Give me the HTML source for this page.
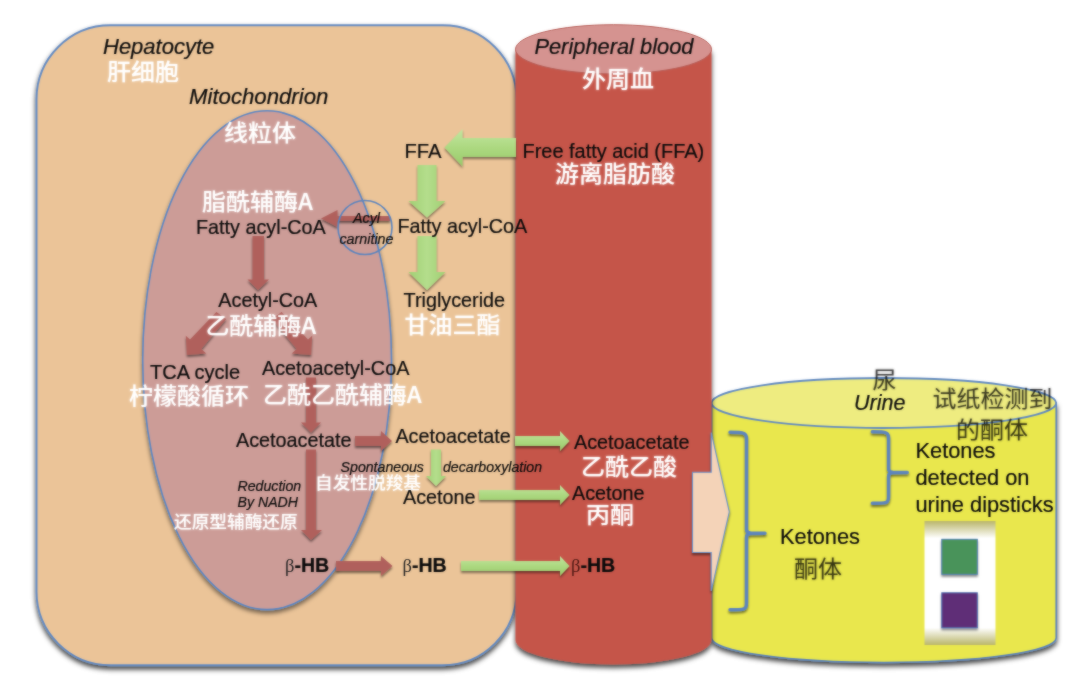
<!DOCTYPE html>
<html lang="zh">
<head>
<meta charset="utf-8">
<title>Ketone body metabolism</title>
<style>
html,body{margin:0;padding:0;background:#fff;}
body{width:1080px;height:680px;overflow:hidden;}
svg{display:block;}
text{font-family:"Liberation Sans","Noto Sans CJK SC",sans-serif;fill:#0a0a0a;stroke:#0a0a0a;stroke-width:0.2px;}
.t{font-size:19.8px;}
.it{font-style:italic;font-size:22px;}
.sm{font-style:italic;font-size:14.15px;}
.xs{font-style:italic;font-size:14.3px;}
.k{font-size:21.8px;}
.cw{stroke:none;filter:url(#glow);fill:#fff;font-size:23px;transform-box:fill-box;transform-origin:0% 100%;transform:scale(1.043,1);font-weight:500;font-family:"Noto Sans CJK SC","Liberation Sans",sans-serif;}
.cws{stroke:none;filter:url(#glow);fill:#fff;font-size:17px;transform-box:fill-box;transform-origin:0% 100%;transform:scale(1.04,1);font-weight:500;font-family:"Noto Sans CJK SC","Liberation Sans",sans-serif;}
.cd{stroke:none;filter:url(#glow);fill:#000;fill-opacity:0.66;font-size:23px;transform-box:fill-box;transform-origin:0% 100%;transform:scale(1.043,1);font-weight:400;font-family:"Noto Sans CJK SC","Liberation Sans",sans-serif;}
.b{font-weight:bold;font-size:19.6px;}
.beta{font-family:"Liberation Serif","DejaVu Serif",serif;font-weight:normal;font-size:18.5px;fill:#222;stroke:none;}
.ga{fill:#a9d67c;}
.ra{fill:#b0605c;}
</style>
</head>
<body>
<svg width="1080" height="680" viewBox="0 0 1080 680">
<defs>
<filter id="soft" filterUnits="userSpaceOnUse" x="0" y="0" width="1080" height="680" color-interpolation-filters="sRGB">
<feGaussianBlur in="SourceGraphic" stdDeviation="0.8" result="bl"/>
<feComposite in="SourceGraphic" in2="bl" operator="arithmetic" k1="0" k2="0.5" k3="0.5" k4="0"/>
</filter>
<filter id="sh" x="-10%" y="-10%" width="120%" height="125%">
<feDropShadow dx="0" dy="3.2" stdDeviation="2.4" flood-color="#000" flood-opacity="0.75"/>
</filter>
<filter id="she" x="-10%" y="-10%" width="120%" height="125%">
<feDropShadow dx="0" dy="3" stdDeviation="2" flood-color="#000" flood-opacity="0.5"/>
</filter>
<filter id="sh2" x="-20%" y="-20%" width="140%" height="150%">
<feDropShadow dx="0" dy="2" stdDeviation="1.2" flood-color="#000" flood-opacity="0.5"/>
</filter>
<filter id="glow" x="-5%" y="-20%" width="110%" height="140%">
<feGaussianBlur in="SourceGraphic" stdDeviation="1" result="b"/>
<feComponentTransfer in="b" result="b2"><feFuncA type="linear" slope="0.55"/></feComponentTransfer>
<feMerge><feMergeNode in="b2"/><feMergeNode in="SourceGraphic"/></feMerge>
</filter>
<linearGradient id="gg" x1="0" y1="0" x2="0" y2="1">
<stop offset="0" stop-color="#c2e6a0"/>
<stop offset="0.5" stop-color="#acd880"/>
<stop offset="1" stop-color="#98ca6a"/>
</linearGradient>
<linearGradient id="gh" x1="0" y1="0" x2="1" y2="0">
<stop offset="0" stop-color="#a0d073"/>
<stop offset="0.5" stop-color="#b4dd8c"/>
<stop offset="1" stop-color="#a0d073"/>
</linearGradient>
<filter id="sh3" x="-30%" y="-30%" width="160%" height="170%">
<feDropShadow dx="0" dy="2" stdDeviation="1.3" flood-color="#000" flood-opacity="0.45"/>
</filter>
<linearGradient id="dip" x1="0" y1="0" x2="0" y2="1">
<stop offset="0" stop-color="#b9b56a"/>
<stop offset="0.14" stop-color="#ffffff"/>
<stop offset="0.86" stop-color="#ffffff"/>
<stop offset="1" stop-color="#b9b56a"/>
</linearGradient>
</defs>
<rect width="1080" height="680" fill="#fff"/>
<g filter="url(#soft)">

<!-- hepatocyte -->
<rect x="36.5" y="25.3" width="480" height="640" rx="74" ry="74" fill="#ebc498" stroke="#638ac2" stroke-width="1.9" filter="url(#sh)"/>
<!-- mitochondrion -->
<ellipse cx="267.1" cy="360.2" rx="124.4" ry="249.4" fill="#cc9c97" stroke="#5b86c4" stroke-width="1.6" filter="url(#she)"/>

<!-- yellow cylinder -->
<g filter="url(#sh)">
<path d="M711.6 403 V638 A172.3 24.5 0 0 0 1056.2 638 V403 Z" fill="#e9e74d" stroke="#5b84be" stroke-width="1.6"/>
</g>
<ellipse cx="883.9" cy="403" rx="172.3" ry="25" fill="#eeec80" stroke="#5f88c2" stroke-width="1.8"/>

<!-- red cylinder -->
<g filter="url(#sh)">
<path d="M515.5 49.3 V640 A98 24.5 0 0 0 711.5 640 V49.3 Z" fill="#c5554a"/>
</g>
<ellipse cx="613.5" cy="49.3" rx="98" ry="24.6" fill="#d59390" stroke="#b75e58" stroke-width="1"/>

<!-- pink big arrow -->
<path d="M692.5 472.3 H711.2 V432.5 L729.3 511.8 L711.2 591 V552.5 H692.5 Z" fill="#f4d3b8" stroke="#6a93cc" stroke-width="1.1" filter="url(#sh2)"/>

<!-- brackets -->
<g filter="url(#sh2)" fill="none" stroke="#5b84be" stroke-width="3.4" stroke-linejoin="round" stroke-linecap="round">
<path d="M730 432.3 Q741 432.3 744 433.5 Q746.5 434.5 746.5 439 V529.5 Q746.5 532.8 750.5 533 L765 533.2 L750.5 533.5 Q746.5 533.8 746.5 537 V603 Q746.5 608 744 608.8 Q741 609.8 730 609.8"/>
<path transform="translate(0.3,-0.5)" d="M872 432.3 Q883 432.3 886 433.5 Q888.3 434.5 888.3 439 V469.5 Q888.3 472.6 892.5 472.8 L907 473 L892.5 473.3 Q888.3 473.5 888.3 476.5 V497 Q888.3 502 886 502.8 Q883 503.8 872 503.8"/>
</g>

<!-- dipstick -->
<rect x="924.5" y="521" width="71" height="124" fill="url(#dip)"/>
<rect x="941.8" y="539.3" width="35.5" height="35" fill="#4a935a" stroke="#4f7fb0" stroke-width="1" filter="url(#sh3)"/>
<rect x="941.8" y="592.8" width="35.5" height="35" fill="#5f2d77" stroke="#4f6fb0" stroke-width="1" filter="url(#sh3)"/>

<!-- green arrows -->
<g filter="url(#sh3)">
<path fill="url(#gg)" d="M516 138 H462.5 V129 L444.5 147.5 L462.5 166.5 V157 H516 Z"/>
<path fill="url(#gh)" d="M417.5 165 H436.5 V201 H445.5 L427 217.5 L408.5 201 H417.5 Z"/>
<path fill="url(#gh)" d="M417.5 236 H436.5 V272 H445.5 L427 290 L408.5 272 H417.5 Z"/>
<path fill="url(#gh)" d="M431 449.5 H441 V476 H446 L436 486 L426 476 H431 Z"/>
<path fill="url(#gg)" d="M515 436 H560 V431 L569.5 441 L560 451 V446 H515 Z"/>
<path fill="url(#gg)" d="M479 490 H560 V485 L569.5 495 L560 505 V500 H479 Z"/>
<path fill="url(#gg)" d="M461 561 H560 V556 L569.5 566 L560 576 V571 H461 Z"/>
</g>

<!-- red arrows -->
<g class="ra" filter="url(#sh2)">
<path d="M390 216 H337.5 V210 L321 218.5 L337.5 227 V221 H390 Z"/>
<path d="M252.5 236 H264 V279.5 H269 L258 290 L247.5 279.5 H252.5 Z"/>
<path d="M216.4 311.9 L226.2 319 L201.3 349 L206.3 353.4 L186.9 355.1 L185.8 335.7 L190 339.6 Z"/>
<path d="M281.6 311.9 L271.8 319 L296.7 349 L291.7 353.4 L311.1 355.1 L312.2 335.7 L308 339.6 Z"/>
<path d="M306 377.5 H316 V422.5 H321 L311 432.5 L301 422.5 H306 Z"/>
<path d="M355 436 H381 V431 L392 441 L381 451 V446 H355 Z"/>
<path d="M306 449.5 H316 V530 H322 L311 540 L301 530 H306 Z"/>
<path d="M336 561 H381 V556 L392.5 566 L381 576 V571 H336 Z"/>
</g>

<!-- acyl carnitine circle -->
<circle cx="365" cy="227.5" r="27" fill="none" stroke="#5b84be" stroke-width="1.6"/>

<!-- text -->
<text class="it" x="103" y="54">Hepatocyte</text>
<text class="cw" x="107" y="80">肝细胞</text>
<text class="it" x="189" y="104.3" style="font-size:22.2px">Mitochondrion</text>
<text class="cw" x="224" y="141">线粒体</text>
<text class="it" x="534.4" y="54" style="font-size:21.85px">Peripheral blood</text>
<text class="cw" x="582" y="87">外周血</text>
<text class="t" x="404.5" y="158" style="font-size:20.2px">FFA</text>
<text class="t" x="522.5" y="158" style="font-size:19.95px">Free fatty acid (FFA)</text>
<text class="cw" x="555" y="182.3">游离脂肪酸</text>
<text class="cw" x="202" y="210">脂酰辅酶A</text>
<text class="t" x="196" y="234">Fatty acyl-CoA</text>
<text class="xs" x="366.5" y="223" text-anchor="middle">Acyl</text>
<text class="xs" x="366.5" y="243.5" text-anchor="middle">carnitine</text>
<text class="t" x="397.5" y="232.5">Fatty acyl-CoA</text>
<text class="t" x="218.3" y="306.5">Acetyl-CoA</text>
<text class="cw" x="205.4" y="333.7">乙酰辅酶A</text>
<text class="t" x="403.6" y="306.6">Triglyceride</text>
<text class="cw" x="404.5" y="333.3">甘油三酯</text>
<text class="t" x="150" y="379" style="font-size:20px">TCA cycle</text>
<text class="cw" x="129" y="404">柠檬酸循环</text>
<text class="t" x="262" y="375">Acetoacetyl-CoA</text>
<text class="cw" x="263" y="403">乙酰乙酰辅酶A</text>
<text class="t" x="236" y="447.4">Acetoacetate</text>
<text class="t" x="395.4" y="442.5">Acetoacetate</text>
<text class="t" x="574" y="449">Acetoacetate</text>
<text class="cw" x="581" y="475.3">乙酰乙酸</text>
<text class="sm" x="340.6" y="471.8">Spontaneous</text>
<text class="sm" x="443" y="471.8">decarboxylation</text>
<text class="cws" x="315" y="489.5">自发性脱羧基</text>
<text class="sm" x="237.5" y="490.5">Reduction</text>
<text class="sm" x="237.5" y="507">By NADH</text>
<text class="cws" x="174" y="528">还原型辅酶还原</text>
<text class="t" x="403" y="504">Acetone</text>
<text class="t" x="572" y="500">Acetone</text>
<text class="cw" x="586" y="523">丙酮</text>
<text class="b" x="285" y="571.8"><tspan class="beta">β</tspan>-HB</text>
<text class="b" x="402.5" y="571.8"><tspan class="beta">β</tspan>-HB</text>
<text class="b" x="571" y="571.8"><tspan class="beta" style="fill:#4a1712">β</tspan>-HB</text>
<text class="cd" x="872.5" y="388.5">尿</text>
<text class="it" x="854" y="410" style="font-size:21.5px">Urine</text>
<text class="cd" x="932.6" y="407">试纸检测到</text>
<text class="cd" x="956" y="438">的酮体</text>
<text class="k" x="915.5" y="457.9">Ketones</text>
<text class="k" x="915.5" y="485">detected on</text>
<text class="k" x="915.5" y="512">urine dipsticks</text>
<text class="k" x="780" y="543.5">Ketones</text>
<text class="cd" x="794" y="577">酮体</text>
</g>
</svg>
</body>
</html>
